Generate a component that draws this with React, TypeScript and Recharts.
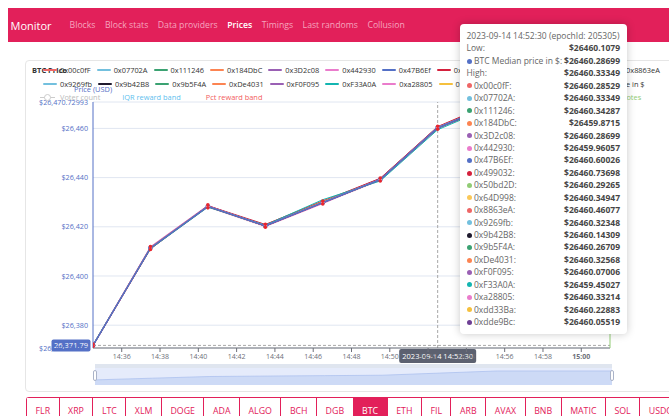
import React from "react";
import { ComposedChart, AreaChart, Line, Area, XAxis, YAxis, CartesianGrid, ReferenceLine } from "recharts";

// ---------- data ----------
const timeLabels = ["14:34:30", "14:37:30", "14:40:30", "14:43:30", "14:46:30", "14:49:30", "14:52:30", "14:55:30", "14:58:30", "15:01:30"];
const xTickLabels = ["14:36", "14:38", "14:40", "14:42", "14:44", "14:46", "14:48", "14:50", "14:52", "14:54", "14:56", "14:58", "15:00"];
const yTickValues = [26370.72993, 26380, 26400, 26420, 26440, 26460, 26470.72993];

const medianPrice = [26371.79, 26411.4, 26428.3, 26420.4, 26429.9, 26439.2, 26460.28699, 26469.9, 26468.6, 26467.2];
const iqrLow = [26371.74, 26411.33, 26428.22, 26420.33, 26429.8, 26439.1, 26460.1079, 26469.81, 26468.48, 26467.14];
const iqrHigh = [26371.85, 26411.55, 26428.41, 26420.52, 26430.08, 26439.34, 26460.33349, 26469.97, 26468.71, 26467.31];
const pctLow = [26371.45, 26410.8, 26427.7, 26419.8, 26429.3, 26438.6, 26459.69, 26469.3, 26468.0, 26466.6];
const pctHigh = [26372.3, 26412.0, 26428.9, 26421.0, 26430.5, 26439.8, 26460.88, 26470.5, 26469.2, 26467.8];
const voterCount = [12, 16, 20, 21, 22, 23, 28, 33, 33, 33];

const providerNames = ["0x00c0fF", "0x07702A", "0x111246", "0x184DbC", "0x3D2c08", "0x442930", "0x47B6Ef", "0x499032", "0x50bd2D", "0x64D998", "0x8863eA", "0x9269fb", "0x9b42B8", "0x9b5F4A", "0xDe4031", "0xF0F095", "0xF33A0A", "0xa28805", "0xdd33Ba", "0xdde9Bc"];
const providerColors = ["#ee6666", "#73c0de", "#3ba272", "#fc8452", "#9a60b4", "#ea7ccc", "#5470c6", "#d4213d", "#91cc75", "#fac858", "#ee6666", "#73c0de", "#1f1a2e", "#3ba272", "#fc8452", "#9a60b4", "#13b5b1", "#ea7ccc", "#f5c03d", "#6e3f95"];
const providerPrices = [
  [26371.79, 26411.62, 26428.41, 26420.35, 26429.71, 26439.05, 26460.28529, 26469.88, 26468.52, 26467.31],
  [26371.85, 26411.48, 26428.36, 26420.52, 26430.02, 26439.27, 26460.33349, 26470.02, 26468.71, 26467.18],
  [26371.71, 26411.55, 26428.22, 26420.44, 26430.15, 26439.34, 26460.34287, 26469.95, 26468.66, 26467.26],
  [26372.02, 26411.21, 26428.09, 26420.83, 26430.61, 26438.96, 26459.8715, 26469.63, 26468.35, 26466.94],
  [26371.79, 26411.4, 26428.3, 26420.4, 26429.9, 26439.2, 26460.28699, 26469.9, 26468.6, 26467.2],
  [26371.96, 26411.92, 26428.71, 26420.18, 26429.42, 26439.51, 26459.96057, 26470.31, 26468.94, 26467.52],
  [26371.68, 26411.33, 26428.45, 26420.61, 26430.08, 26439.62, 26460.60026, 26470.18, 26468.82, 26467.44],
  [26371.6, 26410.95, 26428.58, 26420.95, 26430.42, 26439.71, 26460.73698, 26470.72993, 26469.05, 26467.66],
  [26371.82, 26411.44, 26428.27, 26420.47, 26429.86, 26439.16, 26460.29265, 26469.92, 26468.57, 26467.23],
  [26371.77, 26411.51, 26428.33, 26420.38, 26430.21, 26439.25, 26460.34947, 26469.97, 26468.63, 26467.29],
  [26371.88, 26411.66, 26428.49, 26420.29, 26429.77, 26439.39, 26460.46077, 26470.05, 26468.77, 26467.35],
  [26371.74, 26411.37, 26428.25, 26420.5, 26429.95, 26439.22, 26460.32348, 26469.93, 26468.61, 26467.22],
  [26371.8, 26411.3, 26428.18, 26420.33, 26429.83, 26439.12, 26460.14309, 26469.81, 26468.48, 26467.12],
  [26371.76, 26411.42, 26428.31, 26420.42, 26429.88, 26439.19, 26460.26709, 26469.89, 26468.58, 26467.21],
  [26371.83, 26411.47, 26428.34, 26420.46, 26429.93, 26439.24, 26460.32568, 26469.94, 26468.62, 26467.25],
  [26371.7, 26411.25, 26428.15, 26420.26, 26429.7, 26439.08, 26460.07006, 26469.76, 26468.44, 26467.09],
  [26372.1, 26411.05, 26427.98, 26420.7, 26431.02, 26438.62, 26459.45027, 26469.38, 26468.21, 26466.85],
  [26371.81, 26411.45, 26428.32, 26420.45, 26429.91, 26439.23, 26460.33214, 26469.96, 26468.64, 26467.27],
  [26371.78, 26411.39, 26428.28, 26420.39, 26429.87, 26439.18, 26460.22883, 26469.87, 26468.55, 26467.19],
  [26371.72, 26411.28, 26428.2, 26420.31, 26429.8, 26439.1, 26460.05519, 26469.79, 26468.47, 26467.14],
];

const hoverIndex = 6;
const hoverDate = "2023-09-14";
const hoverEpochId = 205305;
const pointerPrice = 26371.79;
const navLinks = ["Blocks", "Block stats", "Data providers", "Prices", "Timings", "Last randoms", "Collusion"];
const activeNav = "Prices";
const symbols = ["FLR", "XRP", "LTC", "XLM", "DOGE", "ADA", "ALGO", "BCH", "DGB", "BTC", "ETH", "FIL", "ARB", "AVAX", "BNB", "MATIC", "SOL", "USDC", "USDT"];
const activeSymbol = "BTC";

// ---------- helpers ----------
const toSec = (s: string) => {
  const p = s.split(":").map(Number);
  return p[0] * 3600 + p[1] * 60 + (p[2] || 0);
};
const fmtTime = (v: number) => {
  const h = Math.floor(v / 3600);
  const m = Math.floor((v % 3600) / 60);
  return `${h}:${String(m).padStart(2, "0")}`;
};
const rows = timeLabels.map((l, i) => {
  const r: any = {
    t: toSec(l),
    median: medianPrice[i],
    iqr: [iqrLow[i], iqrHigh[i]],
    pct: [pctLow[i], pctHigh[i]],
    pctLow: pctLow[i],
    pctHigh: pctHigh[i],
    voters: voterCount[i],
  };
  providerNames.forEach((_, k) => (r["p" + k] = providerPrices[k][i]));
  return r;
});
const xDomain = [toSec(timeLabels[0]), toSec(timeLabels[timeLabels.length - 1])];
const xTicks = xTickLabels.map(toSec);
const FONT = "'Open Sans', sans-serif";
const PINK = "#e2205a";

const XTick = (props: any) => {
  const { x, y, payload } = props;
  const label = fmtTime(payload.value);
  return (
    <text x={x} y={y} dy="0.71em" textAnchor="middle" fontSize={7} fill="#6e7079" fontWeight={label.endsWith(":00") ? 700 : 400} fontFamily={FONT}>
      {label}
    </text>
  );
};

const YPointerLabel = (props: any) => {
  const vb = props.viewBox || {};
  const x = vb.x;
  const y = vb.y;
  return (
    <g>
      <rect x={x - 41.5} y={y - 6} width={39} height={12} rx={2} fill="#5470c6" />
      <text x={x - 22} y={y} dy="0.35em" textAnchor="middle" fontSize={7.5} fill="#fff" fontFamily={FONT}>
        {pointerPrice.toLocaleString("en-US", { maximumFractionDigits: 2 })}
      </text>
    </g>
  );
};

const XPointerLabel = (props: any) => {
  const vb = props.viewBox || {};
  const cx = vb.x;
  const bottom = vb.y + vb.height;
  return (
    <g>
      <rect x={cx - 38.5} y={bottom + 1} width={77} height={14} rx={2} fill="#5c6170" />
      <text x={cx} y={bottom + 8} dy="0.35em" textAnchor="middle" fontSize={7.5} fill="#fff" fontFamily={FONT}>
        {`${hoverDate} ${timeLabels[hoverIndex]}`}
      </text>
    </g>
  );
};

const LegendItem = ({ color, name }: { color: string; name: string }) => (
  <span style={{ display: "inline-flex", alignItems: "center", marginRight: 6, whiteSpace: "nowrap" }}>
    <span style={{ display: "inline-block", width: 14, height: 2, background: color, borderRadius: 1, marginRight: 3 }} />
    <span>{name}</span>
  </span>
);

export default function App() {
  const row1 = providerNames.slice(0, 11).map((n, i) => ({ n, c: providerColors[i] }));
  const row2 = providerNames.slice(11).map((n, i) => ({ n, c: providerColors[i + 11] }));
  return (
    <div style={{ position: "fixed", left: 0, top: 0, width: 669, height: 416, overflow: "hidden", background: "#fff", fontFamily: FONT }}>
      {/* nav bar */}
      <div style={{ position: "absolute", left: 8, top: 8, width: 661, height: 34, background: PINK, display: "flex", alignItems: "center" }}>
        <span style={{ color: "#fff", fontSize: 11, marginLeft: 2.5, marginRight: 18 }}>Monitor</span>
        {navLinks.map((l) => (
          <span key={l} style={{ color: l === activeNav ? "#fff" : "#f6a5bf", fontSize: 8.7, marginRight: 9.5, fontWeight: l === activeNav ? 600 : 400 }}>
            {l}
          </span>
        ))}
      </div>

      {/* card */}
      <div style={{ position: "absolute", left: 25, top: 60, width: 700, height: 332, border: "1px solid #e6e6e6", borderRadius: 4, boxSizing: "border-box" }} />

      {/* main chart */}
      <div style={{ position: "absolute", left: 0, top: 0 }}>
        <ComposedChart width={669} height={370} data={rows} margin={{ top: 102, right: 58, left: 33, bottom: 2 }}>
          <CartesianGrid yAxisId="price" vertical={false} stroke="#e0e6f1" />
          <XAxis dataKey="t" type="number" domain={xDomain} ticks={xTicks} allowDataOverflow height={20} stroke="#6e7079" tickSize={4} tickMargin={2} tick={<XTick />} interval={0} />
          <YAxis
            yAxisId="price"
            domain={[yTickValues[0], yTickValues[yTickValues.length - 1]]}
            ticks={yTickValues}
            allowDataOverflow
            width={60}
            axisLine={{ stroke: "#5470c6" }}
            tickLine={false}
            tickSize={3}
            tickMargin={2}
            interval={0}
            tick={{ fontSize: 7.2, fill: "#5470c6", fontFamily: FONT }}
            tickFormatter={(v: number) => "$" + v.toLocaleString("en-US", { maximumFractionDigits: 5 })}
          />
          <YAxis yAxisId="votes" orientation="right" width={1} domain={[0, 40]} tick={false} tickLine={false} axisLine={{ stroke: "#91cc75" }} />
          <Area yAxisId="price" dataKey="pct" stroke="none" fill="#f5a3a3" fillOpacity={0.45} isAnimationActive={false} />
          <Area yAxisId="price" dataKey="iqr" stroke="none" fill="#9fd3f0" fillOpacity={0.5} isAnimationActive={false} />
          {providerNames.map((n, k) => (
            <Line key={n} yAxisId="price" dataKey={"p" + k} stroke={providerColors[k]} strokeWidth={1} dot={false} isAnimationActive={false} />
          ))}
          <Line yAxisId="price" dataKey="median" stroke="#5470c6" strokeWidth={1.5} dot={{ r: 2, fill: "#fff", stroke: "#5470c6", strokeWidth: 1 }} isAnimationActive={false} />
          <Line yAxisId="price" dataKey="pctLow" stroke="none" dot={{ r: 1.8, fill: "#e8262e", stroke: "none" }} isAnimationActive={false} />
          <Line yAxisId="price" dataKey="pctHigh" stroke="none" dot={{ r: 1.8, fill: "#e8262e", stroke: "none" }} isAnimationActive={false} />
          <ReferenceLine yAxisId="price" x={rows[hoverIndex].t} stroke="#a8a8a8" strokeDasharray="3 2" label={(p: any) => <XPointerLabel {...p} />} />
          <ReferenceLine yAxisId="price" y={pointerPrice} stroke="#a8a8a8" strokeDasharray="3 2" label={(p: any) => <YPointerLabel {...p} />} />
        </ComposedChart>
      </div>

      {/* legend */}
      <div style={{ position: "absolute", left: 32, top: 65, fontSize: 7.5, fontWeight: 700, color: "#333", lineHeight: "10px" }}>BTC Price</div>
      <div style={{ position: "absolute", left: 43, top: 65, display: "flex", fontSize: 7.4, color: "#333", lineHeight: "10px", whiteSpace: "nowrap" }}>
        {row1.map((it) => <LegendItem key={it.n} color={it.c} name={it.n} />)}
      </div>
      <div style={{ position: "absolute", left: 43, top: 78.5, display: "flex", fontSize: 7.4, color: "#333", lineHeight: "10px", whiteSpace: "nowrap" }}>
        {row2.map((it) => <LegendItem key={it.n} color={it.c} name={it.n} />)}
        <LegendItem color="#5470c6" name="BTC Median price in $" />
      </div>
      <div style={{ position: "absolute", left: 74, top: 84, fontSize: 7.4, color: "#5470c6", lineHeight: "10px" }}>Price (USD)</div>
      <div style={{ position: "absolute", left: 40, top: 92, display: "flex", alignItems: "center", fontSize: 7.4, lineHeight: "10px", whiteSpace: "nowrap" }}>
        <span style={{ position: "relative", display: "inline-block", width: 15, height: 8, marginRight: 5 }}>
          <span style={{ position: "absolute", left: 0, top: 3.5, width: 15, height: 1, background: "#ccc" }} />
          <span style={{ position: "absolute", left: 4, top: 0.5, width: 5, height: 5, border: "1px solid #ccc", borderRadius: "50%", background: "#fff" }} />
        </span>
        <span style={{ color: "#bbb", marginRight: 22 }}>Voter count</span>
        <span style={{ color: "#5ec0ee", marginRight: 25 }}>IQR reward band</span>
        <span style={{ color: "#f25c5c" }}>Pct reward band</span>
      </div>
      <div style={{ position: "absolute", left: 622, top: 92, fontSize: 7.4, color: "#91cc75", lineHeight: "10px" }}>Votes</div>

      {/* slider */}
      <div style={{ position: "absolute", left: 95, top: 364, width: 517, height: 4, background: "#dfe5ef" }} />
      <div style={{ position: "absolute", left: 95, top: 368, width: 517, height: 17, background: "#e5ebfb" }}>
        <AreaChart width={517} height={17} data={rows} margin={{ top: 0, right: 0, left: 0, bottom: 0 }}>
          <XAxis dataKey="t" type="number" domain={xDomain} hide />
          <YAxis domain={[0, 40]} hide />
          <Area dataKey="voters" stroke="#adc1ef" strokeWidth={0.8} fill="#cddaf6" fillOpacity={1} isAnimationActive={false} />
        </AreaChart>
      </div>
      <div style={{ position: "absolute", left: 93, top: 370, width: 4, height: 11, background: "#fff", border: "1px solid #aab3c8", borderRadius: 2, boxSizing: "border-box" }} />
      <div style={{ position: "absolute", left: 609.5, top: 370, width: 4, height: 11, background: "#fff", border: "1px solid #aab3c8", borderRadius: 2, boxSizing: "border-box" }} />

      {/* tab bar */}
      <div style={{ position: "absolute", left: 26, top: 397, display: "flex", borderTop: `1px solid ${PINK}`, borderLeft: `1px solid ${PINK}`, borderTopLeftRadius: 3 }}>
        {symbols.map((s) => (
          <div key={s} style={{ padding: "0 8.5px", height: 26, lineHeight: "26px", fontSize: 8.8, color: s === activeSymbol ? "#fff" : PINK, background: s === activeSymbol ? PINK : "#fff", borderRight: `1px solid ${PINK}`, whiteSpace: "nowrap" }}>
            {s}
          </div>
        ))}
      </div>

      {/* tooltip */}
      <div style={{ position: "absolute", left: 460, top: 24, width: 167, height: 310, background: "#fff", borderRadius: 4, boxShadow: "0 0 8px rgba(0,0,0,0.22)", boxSizing: "border-box", padding: "6px 7px 0 6.5px", fontSize: 8.5, lineHeight: "12.43px", color: "#666", whiteSpace: "nowrap" }}>
        <div>{`${hoverDate} ${timeLabels[hoverIndex]} (epochId: ${hoverEpochId})`}</div>
        <TipRow name="Low:" value={iqrLow[hoverIndex]} />
        <TipRow name="BTC Median price in $:" value={medianPrice[hoverIndex]} color="#5470c6" />
        <TipRow name="High:" value={iqrHigh[hoverIndex]} />
        {providerNames.map((n, k) => (
          <TipRow key={n} name={n + ":"} value={providerPrices[k][hoverIndex]} color={providerColors[k]} />
        ))}
      </div>
    </div>
  );
}

function TipRow({ name, value, color }: { name: string; value: number; color?: string }) {
  return (
    <div style={{ display: "flex", alignItems: "center" }}>
      {color ? <span style={{ display: "inline-block", width: 5, height: 5, borderRadius: "50%", background: color, marginRight: 2.5, flex: "none" }} /> : null}
      <span style={{ flex: 1 }}>{name}</span>
      <span style={{ fontWeight: 700, color: "#464646" }}>{"$" + value}</span>
    </div>
  );
}
